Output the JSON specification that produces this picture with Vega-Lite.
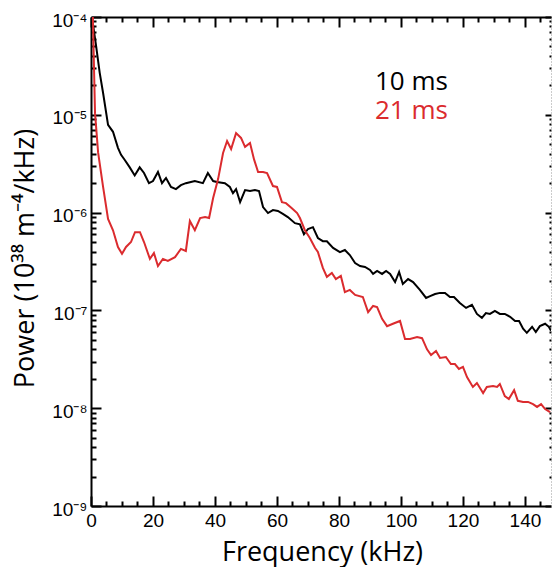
{
  "$schema": "https://vega.github.io/schema/vega-lite/v6.json",
  "width": 460,
  "height": 489,
  "autosize": {"type": "none"},
  "padding": {"left": 91, "top": 17, "right": 1, "bottom": 61},
  "background": "white",
  "config": {"view": {"stroke": null}, "axis": {"grid": false}},
  "datasets": {
    "spectra": [
      {"series": "10 ms", "f": 0.3, "p": 1.0e-4},
      {"series": "10 ms", "f": 1.6, "p": 5.2e-5},
      {"series": "10 ms", "f": 2.8, "p": 2.7e-5},
      {"series": "10 ms", "f": 3.9, "p": 1.67e-5},
      {"series": "10 ms", "f": 5.5, "p": 7.9e-6},
      {"series": "10 ms", "f": 7.1, "p": 6.7e-6},
      {"series": "10 ms", "f": 8.7, "p": 4.6e-6},
      {"series": "10 ms", "f": 9.7, "p": 3.9e-6},
      {"series": "10 ms", "f": 10.9, "p": 3.45e-6},
      {"series": "10 ms", "f": 12.5, "p": 2.9e-6},
      {"series": "10 ms", "f": 14.1, "p": 2.4e-6},
      {"series": "10 ms", "f": 15.7, "p": 2.9e-6},
      {"series": "10 ms", "f": 17.1, "p": 2.54e-6},
      {"series": "10 ms", "f": 18.7, "p": 2.0e-6},
      {"series": "10 ms", "f": 20.0, "p": 2.1e-6},
      {"series": "10 ms", "f": 21.6, "p": 2.6e-6},
      {"series": "10 ms", "f": 22.9, "p": 2.0e-6},
      {"series": "10 ms", "f": 24.2, "p": 2.26e-6},
      {"series": "10 ms", "f": 25.8, "p": 1.83e-6},
      {"series": "10 ms", "f": 27.4, "p": 1.74e-6},
      {"series": "10 ms", "f": 29.0, "p": 1.91e-6},
      {"series": "10 ms", "f": 30.6, "p": 2.0e-6},
      {"series": "10 ms", "f": 33.5, "p": 2.1e-6},
      {"series": "10 ms", "f": 36.1, "p": 2.0e-6},
      {"series": "10 ms", "f": 37.7, "p": 2.54e-6},
      {"series": "10 ms", "f": 39.4, "p": 2.1e-6},
      {"series": "10 ms", "f": 40.6, "p": 2.06e-6},
      {"series": "10 ms", "f": 43.2, "p": 2.0e-6},
      {"series": "10 ms", "f": 44.8, "p": 1.83e-6},
      {"series": "10 ms", "f": 45.8, "p": 1.58e-6},
      {"series": "10 ms", "f": 46.8, "p": 1.74e-6},
      {"series": "10 ms", "f": 48.1, "p": 1.28e-6},
      {"series": "10 ms", "f": 49.7, "p": 1.7e-6},
      {"series": "10 ms", "f": 51.3, "p": 1.66e-6},
      {"series": "10 ms", "f": 52.9, "p": 1.7e-6},
      {"series": "10 ms", "f": 54.2, "p": 1.66e-6},
      {"series": "10 ms", "f": 55.5, "p": 1.14e-6},
      {"series": "10 ms", "f": 57.1, "p": 9.9e-7},
      {"series": "10 ms", "f": 58.7, "p": 1.06e-6},
      {"series": "10 ms", "f": 60.3, "p": 1.04e-6},
      {"series": "10 ms", "f": 61.9, "p": 9.7e-7},
      {"series": "10 ms", "f": 63.5, "p": 9.0e-7},
      {"series": "10 ms", "f": 65.8, "p": 7.8e-7},
      {"series": "10 ms", "f": 67.4, "p": 7.6e-7},
      {"series": "10 ms", "f": 68.7, "p": 6.0e-7},
      {"series": "10 ms", "f": 70.0, "p": 6.8e-7},
      {"series": "10 ms", "f": 71.6, "p": 7.1e-7},
      {"series": "10 ms", "f": 73.2, "p": 5.5e-7},
      {"series": "10 ms", "f": 74.8, "p": 5.1e-7},
      {"series": "10 ms", "f": 76.1, "p": 5.1e-7},
      {"series": "10 ms", "f": 78.1, "p": 4.35e-7},
      {"series": "10 ms", "f": 80.3, "p": 3.95e-7},
      {"series": "10 ms", "f": 81.9, "p": 4.15e-7},
      {"series": "10 ms", "f": 83.5, "p": 3.68e-7},
      {"series": "10 ms", "f": 85.2, "p": 3.05e-7},
      {"series": "10 ms", "f": 86.8, "p": 2.84e-7},
      {"series": "10 ms", "f": 88.4, "p": 2.78e-7},
      {"series": "10 ms", "f": 90.0, "p": 2.59e-7},
      {"series": "10 ms", "f": 91.0, "p": 2.36e-7},
      {"series": "10 ms", "f": 92.3, "p": 2.53e-7},
      {"series": "10 ms", "f": 93.9, "p": 2.36e-7},
      {"series": "10 ms", "f": 95.2, "p": 2.53e-7},
      {"series": "10 ms", "f": 96.5, "p": 2.36e-7},
      {"series": "10 ms", "f": 98.1, "p": 1.95e-7},
      {"series": "10 ms", "f": 99.4, "p": 2.47e-7},
      {"series": "10 ms", "f": 100.6, "p": 1.86e-7},
      {"series": "10 ms", "f": 102.3, "p": 2.09e-7},
      {"series": "10 ms", "f": 103.9, "p": 1.95e-7},
      {"series": "10 ms", "f": 106.1, "p": 1.62e-7},
      {"series": "10 ms", "f": 108.1, "p": 1.34e-7},
      {"series": "10 ms", "f": 109.4, "p": 1.4e-7},
      {"series": "10 ms", "f": 111.0, "p": 1.47e-7},
      {"series": "10 ms", "f": 112.6, "p": 1.51e-7},
      {"series": "10 ms", "f": 114.2, "p": 1.51e-7},
      {"series": "10 ms", "f": 115.8, "p": 1.37e-7},
      {"series": "10 ms", "f": 117.1, "p": 1.37e-7},
      {"series": "10 ms", "f": 119.0, "p": 1.19e-7},
      {"series": "10 ms", "f": 121.0, "p": 1.06e-7},
      {"series": "10 ms", "f": 122.9, "p": 1.14e-7},
      {"series": "10 ms", "f": 124.5, "p": 9.2e-8},
      {"series": "10 ms", "f": 126.1, "p": 8.4e-8},
      {"series": "10 ms", "f": 127.4, "p": 9.4e-8},
      {"series": "10 ms", "f": 128.7, "p": 9.2e-8},
      {"series": "10 ms", "f": 130.3, "p": 9.9e-8},
      {"series": "10 ms", "f": 131.9, "p": 9.2e-8},
      {"series": "10 ms", "f": 133.5, "p": 9.2e-8},
      {"series": "10 ms", "f": 135.2, "p": 8.6e-8},
      {"series": "10 ms", "f": 136.8, "p": 7.8e-8},
      {"series": "10 ms", "f": 138.1, "p": 7.8e-8},
      {"series": "10 ms", "f": 139.4, "p": 6.5e-8},
      {"series": "10 ms", "f": 140.6, "p": 5.9e-8},
      {"series": "10 ms", "f": 142.3, "p": 6.8e-8},
      {"series": "10 ms", "f": 143.5, "p": 6.0e-8},
      {"series": "10 ms", "f": 144.8, "p": 6.9e-8},
      {"series": "10 ms", "f": 146.5, "p": 7.3e-8},
      {"series": "10 ms", "f": 147.7, "p": 6.8e-8},
      {"series": "10 ms", "f": 148.4, "p": 6.2e-8},
      {"series": "21 ms", "f": 0.6, "p": 1.0e-4},
      {"series": "21 ms", "f": 1.3, "p": 1.04e-5},
      {"series": "21 ms", "f": 2.3, "p": 4.1e-6},
      {"series": "21 ms", "f": 3.9, "p": 1.83e-6},
      {"series": "21 ms", "f": 5.5, "p": 8.6e-7},
      {"series": "21 ms", "f": 7.1, "p": 6.6e-7},
      {"series": "21 ms", "f": 8.7, "p": 4.45e-7},
      {"series": "21 ms", "f": 10.0, "p": 3.8e-7},
      {"series": "21 ms", "f": 11.3, "p": 4.45e-7},
      {"series": "21 ms", "f": 12.9, "p": 5.0e-7},
      {"series": "21 ms", "f": 14.2, "p": 6.3e-7},
      {"series": "21 ms", "f": 15.8, "p": 6.3e-7},
      {"series": "21 ms", "f": 17.1, "p": 5.0e-7},
      {"series": "21 ms", "f": 19.0, "p": 3.36e-7},
      {"series": "21 ms", "f": 20.3, "p": 3.86e-7},
      {"series": "21 ms", "f": 21.6, "p": 2.84e-7},
      {"series": "21 ms", "f": 23.2, "p": 3.36e-7},
      {"series": "21 ms", "f": 24.8, "p": 3.2e-7},
      {"series": "21 ms", "f": 27.1, "p": 3.5e-7},
      {"series": "21 ms", "f": 29.0, "p": 4.25e-7},
      {"series": "21 ms", "f": 30.6, "p": 4.05e-7},
      {"series": "21 ms", "f": 31.9, "p": 8.2e-7},
      {"series": "21 ms", "f": 33.5, "p": 6.6e-7},
      {"series": "21 ms", "f": 35.2, "p": 8.8e-7},
      {"series": "21 ms", "f": 36.8, "p": 9.0e-7},
      {"series": "21 ms", "f": 38.1, "p": 8.8e-7},
      {"series": "21 ms", "f": 39.4, "p": 1.41e-6},
      {"series": "21 ms", "f": 41.0, "p": 2.2e-6},
      {"series": "21 ms", "f": 42.6, "p": 4.07e-6},
      {"series": "21 ms", "f": 43.9, "p": 5.4e-6},
      {"series": "21 ms", "f": 45.2, "p": 4.47e-6},
      {"series": "21 ms", "f": 46.8, "p": 6.5e-6},
      {"series": "21 ms", "f": 48.4, "p": 5.8e-6},
      {"series": "21 ms", "f": 49.7, "p": 4.7e-6},
      {"series": "21 ms", "f": 51.3, "p": 5.15e-6},
      {"series": "21 ms", "f": 52.6, "p": 3.5e-6},
      {"series": "21 ms", "f": 53.9, "p": 2.6e-6},
      {"series": "21 ms", "f": 55.5, "p": 2.6e-6},
      {"series": "21 ms", "f": 56.8, "p": 2.54e-6},
      {"series": "21 ms", "f": 58.7, "p": 1.87e-6},
      {"series": "21 ms", "f": 60.0, "p": 1.83e-6},
      {"series": "21 ms", "f": 61.6, "p": 1.28e-6},
      {"series": "21 ms", "f": 62.9, "p": 1.25e-6},
      {"series": "21 ms", "f": 64.8, "p": 1.11e-6},
      {"series": "21 ms", "f": 66.5, "p": 9.9e-7},
      {"series": "21 ms", "f": 67.4, "p": 8.8e-7},
      {"series": "21 ms", "f": 69.0, "p": 6.6e-7},
      {"series": "21 ms", "f": 70.6, "p": 5.5e-7},
      {"series": "21 ms", "f": 72.3, "p": 4.35e-7},
      {"series": "21 ms", "f": 73.2, "p": 3.95e-7},
      {"series": "21 ms", "f": 74.8, "p": 2.72e-7},
      {"series": "21 ms", "f": 76.1, "p": 2.2e-7},
      {"series": "21 ms", "f": 77.7, "p": 2.41e-7},
      {"series": "21 ms", "f": 79.0, "p": 2.09e-7},
      {"series": "21 ms", "f": 80.6, "p": 2.25e-7},
      {"series": "21 ms", "f": 81.9, "p": 1.54e-7},
      {"series": "21 ms", "f": 83.5, "p": 1.62e-7},
      {"series": "21 ms", "f": 85.2, "p": 1.44e-7},
      {"series": "21 ms", "f": 87.7, "p": 1.37e-7},
      {"series": "21 ms", "f": 89.4, "p": 9.6e-8},
      {"series": "21 ms", "f": 91.0, "p": 1.11e-7},
      {"series": "21 ms", "f": 92.3, "p": 1.08e-7},
      {"series": "21 ms", "f": 93.9, "p": 8.2e-8},
      {"series": "21 ms", "f": 95.5, "p": 6.9e-8},
      {"series": "21 ms", "f": 97.4, "p": 7.3e-8},
      {"series": "21 ms", "f": 99.7, "p": 7.8e-8},
      {"series": "21 ms", "f": 101.3, "p": 5.1e-8},
      {"series": "21 ms", "f": 102.9, "p": 5.1e-8},
      {"series": "21 ms", "f": 105.2, "p": 5.35e-8},
      {"series": "21 ms", "f": 106.8, "p": 5.2e-8},
      {"series": "21 ms", "f": 108.4, "p": 4.0e-8},
      {"series": "21 ms", "f": 109.7, "p": 3.5e-8},
      {"series": "21 ms", "f": 111.3, "p": 3.85e-8},
      {"series": "21 ms", "f": 112.6, "p": 3.26e-8},
      {"series": "21 ms", "f": 114.5, "p": 3.34e-8},
      {"series": "21 ms", "f": 116.1, "p": 2.83e-8},
      {"series": "21 ms", "f": 117.4, "p": 2.83e-8},
      {"series": "21 ms", "f": 118.7, "p": 2.52e-8},
      {"series": "21 ms", "f": 120.0, "p": 2.64e-8},
      {"series": "21 ms", "f": 121.3, "p": 2.08e-8},
      {"series": "21 ms", "f": 123.2, "p": 1.65e-8},
      {"series": "21 ms", "f": 124.5, "p": 1.81e-8},
      {"series": "21 ms", "f": 126.5, "p": 1.43e-8},
      {"series": "21 ms", "f": 127.7, "p": 1.65e-8},
      {"series": "21 ms", "f": 129.7, "p": 1.69e-8},
      {"series": "21 ms", "f": 131.0, "p": 1.65e-8},
      {"series": "21 ms", "f": 131.9, "p": 1.77e-8},
      {"series": "21 ms", "f": 133.5, "p": 1.33e-8},
      {"series": "21 ms", "f": 134.8, "p": 1.24e-8},
      {"series": "21 ms", "f": 136.5, "p": 1.53e-8},
      {"series": "21 ms", "f": 137.7, "p": 1.19e-8},
      {"series": "21 ms", "f": 139.4, "p": 1.16e-8},
      {"series": "21 ms", "f": 141.0, "p": 1.16e-8},
      {"series": "21 ms", "f": 142.6, "p": 1.1e-8},
      {"series": "21 ms", "f": 143.9, "p": 1.03e-8},
      {"series": "21 ms", "f": 145.2, "p": 1.1e-8},
      {"series": "21 ms", "f": 146.5, "p": 9.8e-9},
      {"series": "21 ms", "f": 148.1, "p": 9.1e-9}
    ],
    "labels": [
      {"label": "10 ms", "f": 91.6, "p": 1.79e-5},
      {"label": "21 ms", "f": 91.6, "p": 9.0e-6}
    ]
  },
  "resolve": {"axis": {"x": "independent", "y": "independent"}},
  "layer": [
    {
      "data": {"name": "spectra"},
      "transform": [{"filter": "datum.series === '10 ms'"}],
      "mark": {"type": "line", "color": "#000000", "strokeWidth": 2, "clip": true},
      "encoding": {
        "x": {
          "field": "f", "type": "quantitative",
          "scale": {"domain": [0, 148.4], "nice": false, "zero": false},
          "axis": {
            "orient": "bottom",
            "values": [0,5,10,15,20,25,30,35,40,45,50,55,60,65,70,75,80,85,90,95,100,105,110,115,120,125,130,135,140,145],
            "labelExpr": "datum.value % 20 === 0 ? datum.label : ''",
            "tickSize": {"condition": {"test": "datum.value % 20 === 0", "value": -10}, "value": -5},
            "tickWidth": 2, "tickColor": "#000000",
            "domainWidth": 2, "domainColor": "#000000",
            "labelFont": "Liberation Sans", "labelFontSize": 19, "labelColor": "#000000",
            "labelPadding": 15, "labelFlush": false, "labelOverlap": false,
            "title": "Frequency (kHz)",
            "titleFont": "Open Sans", "titleFontSize": 27, "titleFontWeight": "normal", "titleColor": "#000000",
            "titleX": 231, "titleY": 54, "titleBaseline": "alphabetic", "titleAlign": "center"
          }
        },
        "y": {
          "field": "p", "type": "quantitative",
          "scale": {"type": "log", "domain": [1e-9, 1e-4], "nice": false},
          "axis": {
            "orient": "left",
            "values": [1e-9,2e-9,3e-9,4e-9,5e-9,6e-9,7e-9,8e-9,9e-9,1e-8,2e-8,3e-8,4e-8,5e-8,6e-8,7e-8,8e-8,9e-8,1e-7,2e-7,3e-7,4e-7,5e-7,6e-7,7e-7,8e-7,9e-7,1e-6,2e-6,3e-6,4e-6,5e-6,6e-6,7e-6,8e-6,9e-6,1e-5,2e-5,3e-5,4e-5,5e-5,6e-5,7e-5,8e-5,9e-5,1e-4],
            "labelExpr": "abs(log(datum.value)/LN10 - round(log(datum.value)/LN10)) < 0.01 ? ['10⁻⁹','10⁻⁸','10⁻⁷','10⁻⁶','10⁻⁵','10⁻⁴'][round(log(datum.value)/LN10)+9] : ''",
            "tickSize": {"condition": {"test": "abs(log(datum.value)/LN10 - round(log(datum.value)/LN10)) < 0.01", "value": -10}, "value": -5},
            "tickWidth": 2, "tickColor": "#000000",
            "domainWidth": 2, "domainColor": "#000000",
            "labelFont": "Liberation Sans", "labelFontSize": 19, "labelColor": "#000000",
            "labelPadding": 14, "labelOffset": 3, "labelFlush": false, "labelOverlap": false,
            "title": "Power (10³⁸ m⁻⁴/kHz)",
            "titleFont": "Open Sans", "titleFontSize": 27, "titleFontWeight": "normal", "titleColor": "#000000",
            "titleX": -58, "titleY": 241, "titleAngle": -90, "titleBaseline": "alphabetic", "titleAlign": "center"
          }
        }
      }
    },
    {
      "data": {"name": "spectra"},
      "transform": [{"filter": "datum.series === '21 ms'"}],
      "mark": {"type": "line", "color": "#db2b2e", "strokeWidth": 2, "clip": true},
      "encoding": {
        "x": {
          "field": "f", "type": "quantitative",
          "scale": {"domain": [0, 148.4], "nice": false, "zero": false},
          "axis": {
            "orient": "top",
            "values": [0,5,10,15,20,25,30,35,40,45,50,55,60,65,70,75,80,85,90,95,100,105,110,115,120,125,130,135,140,145],
            "labels": false,
            "tickSize": {"condition": {"test": "datum.value % 20 === 0", "value": -10}, "value": -5},
            "tickWidth": 2, "tickColor": "#000000",
            "domainWidth": 2, "domainColor": "#000000",
            "title": null
          }
        },
        "y": {
          "field": "p", "type": "quantitative",
          "scale": {"type": "log", "domain": [1e-9, 1e-4], "nice": false},
          "axis": {
            "orient": "right",
            "values": [1e-9,2e-9,3e-9,4e-9,5e-9,6e-9,7e-9,8e-9,9e-9,1e-8,2e-8,3e-8,4e-8,5e-8,6e-8,7e-8,8e-8,9e-8,1e-7,2e-7,3e-7,4e-7,5e-7,6e-7,7e-7,8e-7,9e-7,1e-6,2e-6,3e-6,4e-6,5e-6,6e-6,7e-6,8e-6,9e-6,1e-5,2e-5,3e-5,4e-5,5e-5,6e-5,7e-5,8e-5,9e-5,1e-4],
            "labels": false,
            "tickSize": {"condition": {"test": "abs(log(datum.value)/LN10 - round(log(datum.value)/LN10)) < 0.01", "value": -6}, "value": -2},
            "tickWidth": 2, "tickColor": "#000000",
            "domainWidth": 1, "domainColor": "#999999", "domainDash": [1, 2],
            "title": null
          }
        }
      }
    },
    {
      "data": {"name": "labels"},
      "mark": {"type": "text", "font": "Open Sans", "fontSize": 26, "align": "left", "baseline": "alphabetic"},
      "encoding": {
        "x": {"field": "f", "type": "quantitative", "scale": {"domain": [0, 148.4], "nice": false, "zero": false}, "axis": null},
        "y": {"field": "p", "type": "quantitative", "scale": {"type": "log", "domain": [1e-9, 1e-4], "nice": false}, "axis": null},
        "text": {"field": "label"},
        "color": {"field": "label", "type": "nominal", "scale": {"domain": ["10 ms", "21 ms"], "range": ["#000000", "#db2b2e"]}, "legend": null}
      }
    }
  ]
}
